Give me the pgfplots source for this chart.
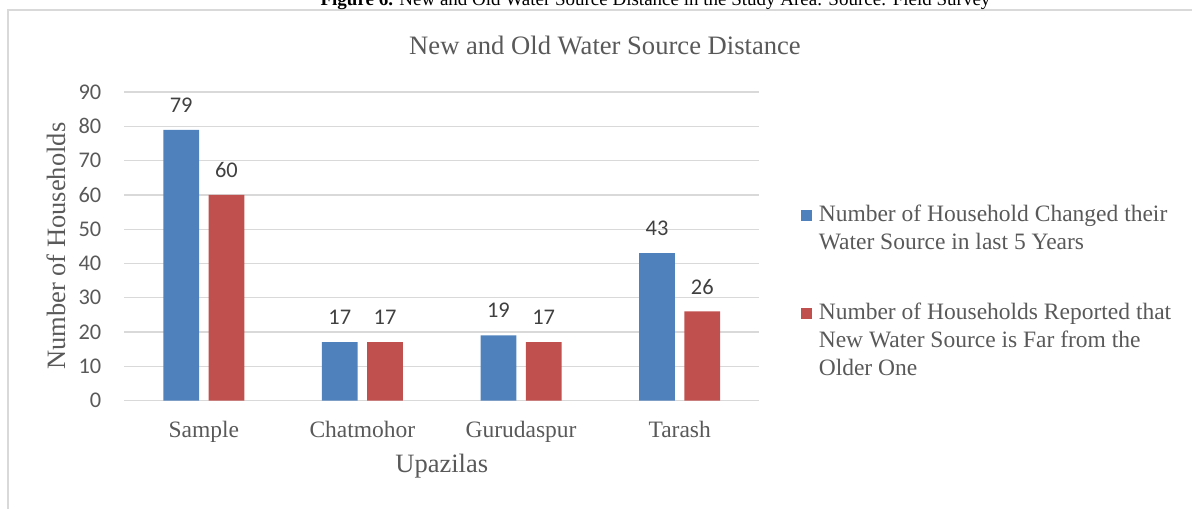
\documentclass[border=0pt]{standalone}
\usepackage{pgfplots}
\pgfplotsset{compat=1.18}
\usepackage{fontspec}
\setmainfont{Liberation Serif}
\newfontfamily\calibri{Carlito}
\definecolor{barblue}{HTML}{4F81BD}
\definecolor{barred}{HTML}{C0504D}
\definecolor{gridgray}{HTML}{D9D9D9}
\definecolor{txtgray}{HTML}{595959}
\definecolor{lblgray}{HTML}{404040}

\begin{document}
\begin{tikzpicture}
\clip (0,0) rectangle (596pt,254pt);
\path[use as bounding box] (0,0) rectangle (596pt,254pt);
\draw[gridgray, line width=0.6pt] (4pt,-5pt) -- (4pt,249pt) -- (600pt,249pt);
\node[anchor=base, inner sep=0pt, font=\fontsize{9.5pt}{11pt}\selectfont] at (327.75pt,251pt)
  {\textbf{Figure 6.} New and Old Water Source Distance in the Study Area. Source: Field Survey};
\node[anchor=base, inner sep=0pt, text=txtgray, font=\fontsize{13.3pt}{16pt}\selectfont] at (302.5pt,226.5pt)
  {New and Old Water Source Distance};
\begin{axis}[
  at={(62.25pt,53.75pt)}, anchor=south west,
  scale only axis, width=317.25pt, height=154.2pt,
  xmin=-0.5, xmax=3.5, ymin=0, ymax=90,
  ybar=4.75pt, bar width=17.85pt,
  ytick={0,10,...,90}, xtick={0,1,2,3},
  xticklabels={Sample,Chatmohor,Gurudaspur,Tarash},
  axis line style={draw=none},
  major tick length=0pt,
  ymajorgrids, grid style={gridgray, line width=0.65pt},
  /pgf/number format/assume math mode=true,
  yticklabel style={font=\calibri\fontsize{11.2pt}{13pt}\selectfont, text=txtgray, anchor=east, inner sep=0pt, xshift=-11.4pt},
  xticklabel style={font=\fontsize{11.75pt}{14pt}\selectfont, text=txtgray, anchor=base, inner sep=0pt, yshift=-18.25pt},
  xlabel={Upazilas},
  ylabel={Number of Households},
  every axis x label/.style={at={(axis description cs:0.5,-0.2341)}, anchor=base, inner sep=0pt, text=txtgray, font=\fontsize{13.25pt}{16pt}\selectfont},
  every axis y label/.style={at={(axis description cs:-0.09377,0.5)}, rotate=90, anchor=base, inner sep=0pt, text=txtgray, font=\fontsize{13.25pt}{16pt}\selectfont},
  nodes near coords,
  every node near coord/.append style={font=\calibri\fontsize{11.2pt}{13pt}\selectfont, text=lblgray, anchor=base, yshift=8.7pt},
  legend image code/.code={\fill[#1,/tikz/.cd] (0pt,0.3pt) rectangle (5.3pt,5.6pt); \path (8.9pt,0pt);},
  legend cell align=left,
  legend style={at={(axis description cs:1.0662,0.6446)}, anchor=north west, draw=none, fill=none,
    inner sep=0pt, outer sep=0pt, row sep=37.6pt, column sep=0pt,
    nodes={inner sep=0pt}, cells={anchor=base west},
    font=\fontsize{11.75pt}{14pt}\selectfont, text=txtgray},
]
\addplot[fill=barblue, draw=none]
  coordinates {(0,79) (1,17) (2,19) (3,43)};
\addlegendentry{\begin{tabular}[t]{@{}l@{}}Number of Household Changed their\\Water Source in last 5 Years\end{tabular}}
\addplot[fill=barred, draw=none]
  coordinates {(0,60) (1,17) (2,17) (3,26)};
\addlegendentry{\begin{tabular}[t]{@{}l@{}}Number of Households Reported that\\New Water Source is Far from the\\Older One\end{tabular}}
\end{axis}
\end{tikzpicture}
\end{document}
